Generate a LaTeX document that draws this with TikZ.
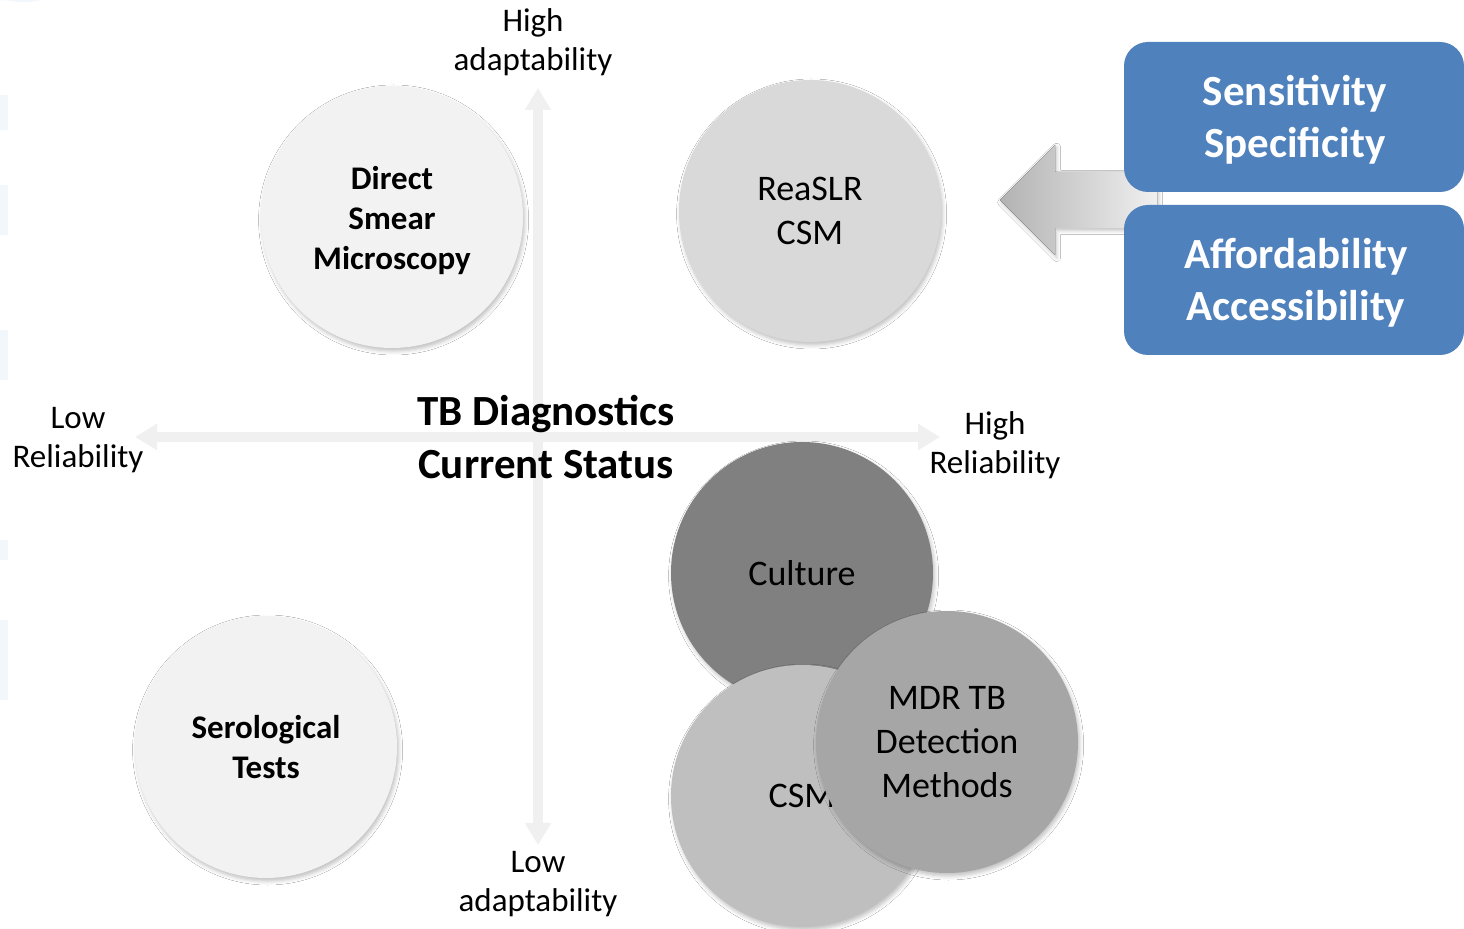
\documentclass[tikz,border=0pt]{standalone}
\usepackage{fontspec}
\setmainfont{Carlito}
\usetikzlibrary{arrows.meta,shadows.blur}
\definecolor{boxblue}{HTML}{4F81BD}
\definecolor{axisgray}{HTML}{F0F0F0}
\definecolor{paleblue}{HTML}{F2F7FC}
\begin{document}
\begin{tikzpicture}[x=0.5pt,y=-0.5pt,
  axis/.style={draw=axisgray,line width=5pt,
    {Triangle[length=11pt,width=12.5pt]}-{Triangle[length=11pt,width=12.5pt]}},
  lbl/.style={align=center,font=\fontsize{16.5}{19.5}\selectfont},
  title/.style={align=center,font=\bfseries\fontsize{21.5}{26.5}\selectfont},
  bubble/.style={circle,minimum size=131pt,inner sep=0pt,align=center,
    blur shadow={shadow xshift=0.8pt,shadow yshift=-1.5pt,shadow blur radius=2pt,shadow opacity=25}},
  lightbubble/.style={bubble,fill=#1,font=\bfseries\fontsize{16.5}{20}\selectfont},
  midbubble/.style={bubble,fill=#1,font=\fontsize{18}{22}\selectfont},
  boldtext/.style={align=center,font=\bfseries\fontsize{16.5}{20}\selectfont},
  bluebox/.style={rectangle,rounded corners=12pt,fill=boxblue,
    minimum width=170pt,minimum height=75pt},
  boxtext/.style={align=center,text=white,font=\bfseries\fontsize{21.5}{26}\selectfont}]
\useasboundingbox (0,0) rectangle (1464,929);
\fill[white] (0,0) rectangle (1464,929);

% faint background decoration along the left edge
\fill[paleblue] (0,95) rectangle (8,130);
\fill[paleblue] (0,185) rectangle (8,235);
\fill[paleblue] (0,330) rectangle (8,380);
\fill[paleblue] (0,540) rectangle (8,560);
\fill[paleblue] (0,620) rectangle (8,700);
\fill[paleblue] (0,0) .. controls (10,0) and (25,5) .. (40,0) -- cycle;

% axes
\coordinate (vtop) at (538,88);
\coordinate (vbot) at (538,845);
\coordinate (hleft) at (135,437);
\coordinate (hright) at (940,437);
\draw[axis] (vbot) -- (vtop);
\draw[axis] (hright) -- (hleft);

% axis labels
\node[lbl] (hiadapt) at (533,42) {High\\adaptability};
\node[lbl] (loadapt) at (538,884) {Low\\adaptability};
\node[lbl] (lorel) at (78,440) {Low\\Reliability};
\node[lbl] (hirel) at (995,445) {High\\Reliability};

% title
\node[title] (ttl) at (546,437) {TB Diagnostics\\Current Status};

% bubbles
\node[lightbubble=black!5] (dsm) at (392,217) {};
\node[boldtext] (dsmtxt) at (392,221) {Direct\\Smear\\Microscopy};
\node[midbubble=black!15] (reaslr) at (810,211) {ReaSLR\\CSM};
\node[lightbubble=black!5] (sero) at (266,747) {Serological\\Tests};
\node[midbubble=black!50] (culture) at (802,573) {Culture};
\node[midbubble=black!25] (csm) at (802,796) {CSM};
\node[midbubble=black!35] (mdr) at (947,742) {MDR TB\\Detection\\Methods};

% shaded arrow pointing back to the bubbles
\fill[left color=black!30,right color=black!6,
  blur shadow={shadow xshift=0.8pt,shadow yshift=-1.2pt,shadow blur radius=2pt,shadow opacity=25}]
  (1000,200) -- (1055,145) -- (1055,172) -- (1157,172) -- (1157,228)
  -- (1055,228) -- (1055,255) -- cycle;

% criteria boxes
\node[bluebox] (sens) at (1294,117) {};
\node[boxtext] (senstxt) at (1295,120) {Sensitivity\\Specificity};
\node[bluebox] (afford) at (1294,280) {};
\node[boxtext] (affordtxt) at (1296,283) {Affordability\\Accessibility};
\end{tikzpicture}
\end{document}
